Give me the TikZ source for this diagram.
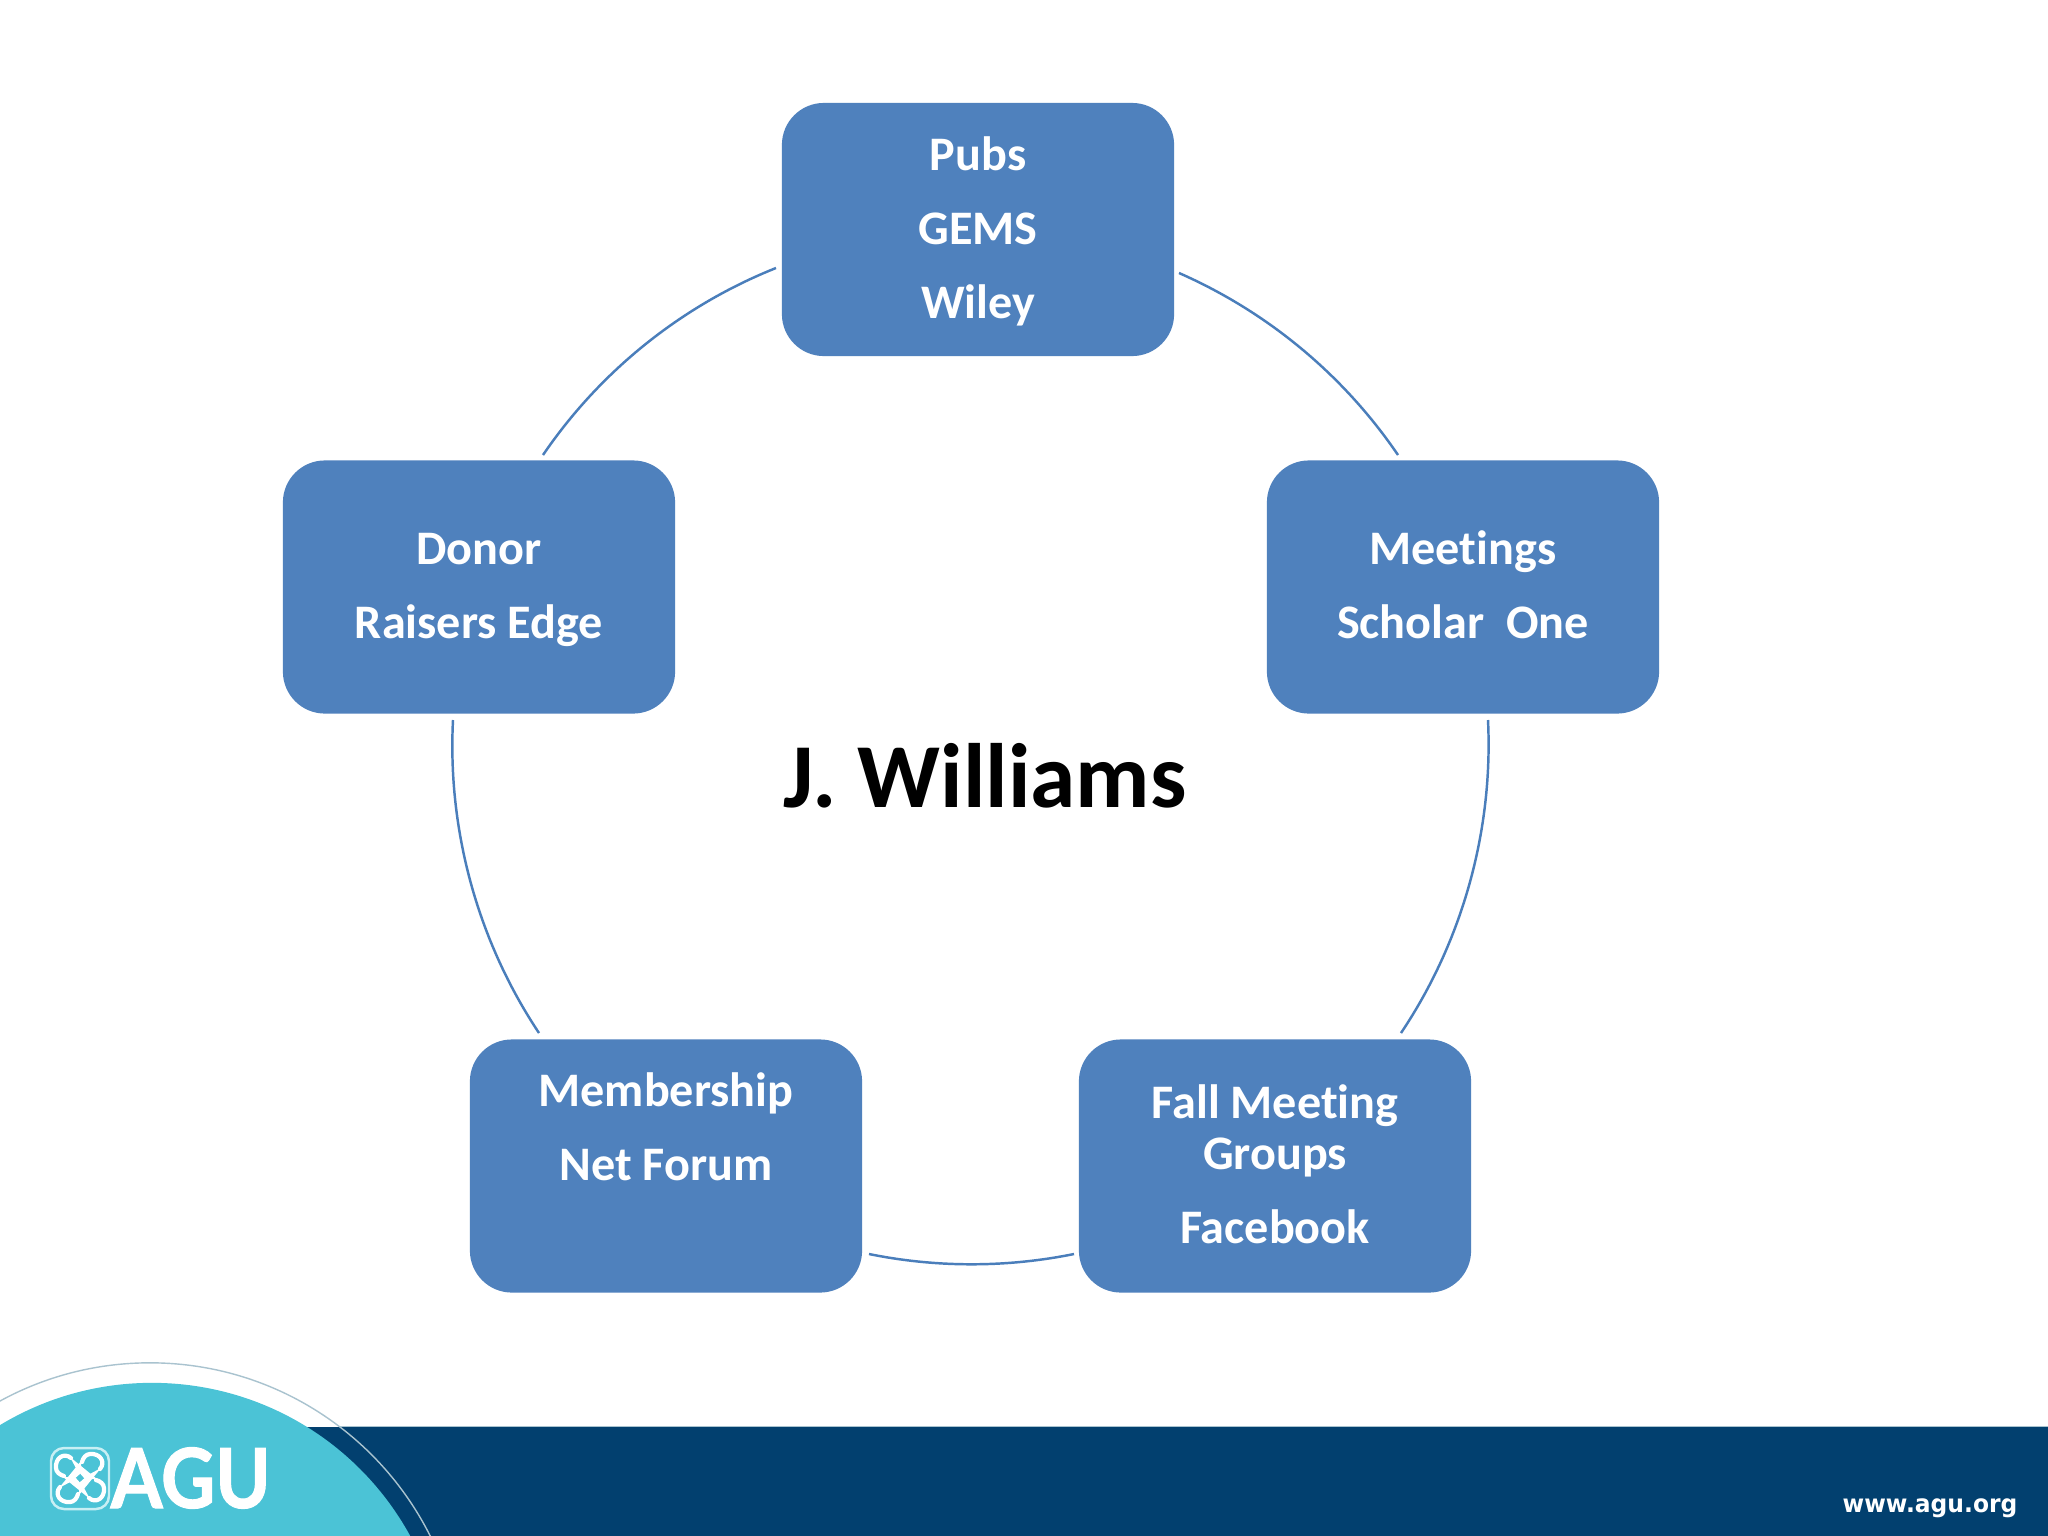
\documentclass[tikz,border=0pt]{standalone}
\usepackage{fontspec}
\setmainfont[Ligatures=NoCommon]{Carlito}
\newfontfamily\logofont[BoldFeatures={FakeStretch=0.9,FakeBold=1.2}]{Lato}
\newfontfamily\urlfont[BoldFeatures={FakeStretch=0.95}]{DejaVu Sans}
\definecolor{boxblue}{HTML}{4F81BD}
\definecolor{arcblue}{HTML}{4A7EBB}
\definecolor{bandblue}{HTML}{02406F}
\definecolor{teal}{HTML}{4BC3D6}
\definecolor{ringline}{HTML}{A9C3CF}
\definecolor{logoline}{HTML}{C8EFF4}
\tikzset{
  pxscale/.style={x=0.01cm,y=-0.01cm},
  boxnode/.style={rectangle,rounded corners=0.42cm,fill=boxblue,text=white,
    minimum width=3.92cm,minimum height=2.53cm,inner sep=0pt,align=center,
    font=\fontsize{13.7pt}{21pt}\selectfont\bfseries},
  arcline/.style={draw=arcblue,line width=0.7pt},
}
\begin{document}
\begin{tikzpicture}[pxscale]
\useasboundingbox (0,0) rectangle (2048,1536);
\fill[white] (0,0) rectangle (2048,1536);
% footer
\fill[bandblue] (0,1427) rectangle (2048,1536);
\draw[ringline,line width=0.5pt] (0,1427) -- (2048,1427);
\begin{scope}
\clip (0,0) rectangle (2048,1536);
\fill[white] (150,1676) circle[radius=3.13cm];
\fill[bandblue] (0,1427) rectangle (2048,1536);
\fill[teal] (152,1677) circle[radius=2.94cm];
\draw[ringline,line width=0.4pt] (150,1676) circle[radius=3.13cm];
\end{scope}
% boxes
\node[boxnode] (pubs) at (978,229.5) {\strut Pubs\\\strut GEMS\\\strut Wiley};
\node[boxnode] (meet) at (1463,587) {\strut Meetings\\\strut Scholar\ \ One};
\node[boxnode] (donor) at (479,587) {\strut Donor\\\strut Raisers Edge};
\node[boxnode] (memb) at (666,1166) {\strut Membership\\\strut Net Forum\\\strut};
\node[boxnode] (fall) at (1275,1166) {\strut Fall Meeting\\[-6.5pt]\strut Groups\\\strut Facebook};
\node[font=\fontsize{26pt}{30pt}\selectfont\bfseries,text=black] (name) at (985,776) {J. Williams};
% arc end points
\coordinate (p1) at (1179,273);
\coordinate (m1) at (1398,455);
\coordinate (m2) at (1488,720);
\coordinate (f1) at (1401,1033);
\coordinate (f2) at (1074,1254);
\coordinate (b1) at (869,1254);
\coordinate (b2) at (539,1033);
\coordinate (d1) at (453,720);
\coordinate (d2) at (543,455);
\coordinate (p2) at (776,268);
\draw[arcline] (p1) to[bend left=16,looseness=0.87] (m1);
\draw[arcline] (m2) to[bend left=18.3,looseness=0.87] (f1);
\draw[arcline] (f2) to[bend left=11.5,looseness=0.86] (b1);
\draw[arcline] (b2) to[bend left=18.3,looseness=0.87] (d1);
\draw[arcline] (d2) to[bend left=17,looseness=0.87] (p2);
% logo
\node[anchor=base west,inner sep=0pt,text=white,font=\fontsize{23.6pt}{24pt}\logofont\bfseries] (agu) at (110,1508) {AGU};
\begin{scope}[shift={(80,1478)},line join=round,line cap=round]
\draw[logoline,line width=0.7pt,rounded corners=0.13cm] (-29,-30) rectangle (29,31);
\foreach \a in {0,90,180,270}{
  \begin{scope}[rotate=\a]
    \fill[white] (-10,-21) -- (17,1) -- (5,1) -- (-3,-8) -- cycle;
    \draw[white,line width=1.2pt] (-9,-20) .. controls (-16,-26) and (-25,-20) .. (-24,-10) .. controls (-24,-6) and (-20,-3) .. (-16,-2);
  \end{scope}
}
\end{scope}
% url
\node[anchor=base west,inner sep=0pt,text=white,font=\fontsize{7pt}{9pt}\urlfont\bfseries] (url) at (1842,1512) {www.agu.org};
\end{tikzpicture}
\end{document}
